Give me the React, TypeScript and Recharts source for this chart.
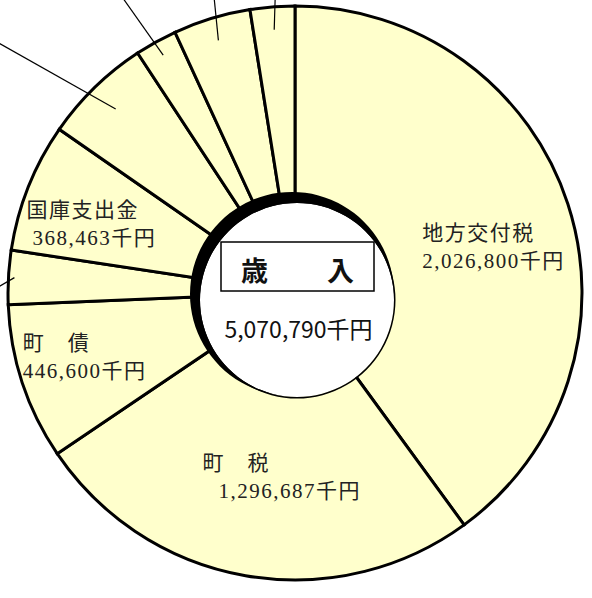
import { PieChart, Pie } from 'recharts';

// 歳入 内訳 (千円)
const categories = ['地方交付税', '町税', '町債', '県支出金', '国庫支出金', '繰入金', '地方譲与税', '諸収入', 'その他'];
const labelNames = ['地方交付税', '町　税', '町　債', '', '国庫支出金', '', '', '', ''];
const values = [2026800, 1296687, 446600, 154300, 368463, 309400, 120500, 220800, 127240];
const centerTitle = ['歳', '入'];
const total = 5070790;

const data = categories.map((name, i) => ({ name, value: values[i] }));

const RAD = Math.PI / 180;
const polar = (cx: number, cy: number, r: number, a: number) => ({
  x: cx + r * Math.cos(-a * RAD),
  y: cy + r * Math.sin(-a * RAD),
});

const fmt = (v: number) => v.toLocaleString('en-US') + '千円';

// start of first label line, measured from slice middle
const labelPlace: Record<number, { r: number; shift: number; indent: number }> = {
  0: { r: 138, shift: 4.6, indent: 0 },
  1: { r: 200, shift: -17.6, indent: 16 },
  2: { r: 278, shift: -6.4, indent: 0 },
  4: { r: 279, shift: 5.9, indent: 6 },
};

// leader lines for labels that sit outside the crop
const leaders: Record<number, { r: number; dx: number; dy: number }> = {
  3: { r: 281, dx: -0.86, dy: 0.5 },
  5: { r: 257, dx: -0.87, dy: -0.49 },
  6: { r: 272, dx: -0.58, dy: -0.82 },
  7: { r: 264, dx: -0.1, dy: -1 },
  8: { r: 264, dx: 0.03, dy: -1 },
};

const labelFont = '"Liberation Serif", "Noto Sans CJK JP", serif';
const sansFont = '"Noto Sans CJK JP", "DejaVu Sans", sans-serif';

const renderLabel = (props: any) => {
  const { cx, cy, midAngle, index } = props;
  const place = labelPlace[index];
  if (place) {
    const p = polar(cx, cy, place.r, midAngle + place.shift);
    return (
      <text fontFamily={labelFont} fontSize={21} fill="#222" letterSpacing={1.5}>
        <tspan x={p.x} y={p.y}>{labelNames[index]}</tspan>
        <tspan x={p.x + place.indent} y={p.y + 28}>{fmt(values[index])}</tspan>
      </text>
    );
  }
  const l = leaders[index];
  if (l) {
    const p = polar(cx, cy, l.r, midAngle);
    return <line x1={p.x} y1={p.y} x2={p.x + l.dx * 200} y2={p.y + l.dy * 200} stroke="#000" strokeWidth={1.2} />;
  }
  return null;
};

const renderCenter = (props: any) => {
  const { cx, cy } = props;
  return (
    <g>
      <rect x={cx - 76} y={cy - 58} width={153} height={49} fill="#fff" stroke="#000" strokeWidth={1.5} />
      <text x={cx - 42.5} y={cy - 19} textAnchor="middle" fontFamily={sansFont} fontSize={27} fontWeight="bold" fill="#111">
        {centerTitle[0]}
      </text>
      <text x={cx + 43.5} y={cy - 19} textAnchor="middle" fontFamily={sansFont} fontSize={27} fontWeight="bold" fill="#111">
        {centerTitle[1]}
      </text>
      <text x={cx + 1.5} y={cy + 38} textAnchor="middle" fontFamily={sansFont} fontSize={23} fill="#111">
        {fmt(total)}
      </text>
    </g>
  );
};

const one = [{ value: 1 }];

export default function App() {
  return (
    <div style={{ position: 'absolute', left: 0, top: 0, background: '#fff' }}>
      <PieChart width={592} height={598} margin={{ top: 0, right: 0, bottom: 0, left: 0 }}>
        <Pie
          data={data}
          dataKey="value"
          nameKey="name"
          cx={295}
          cy={293}
          innerRadius={0}
          outerRadius={287}
          startAngle={90}
          endAngle={-270}
          fill="#FFFFCC"
          stroke="#000"
          strokeWidth={3}
          label={renderLabel}
          labelLine={false}
          isAnimationActive={false}
        />
        <Pie data={one} dataKey="value" cx={292} cy={294} outerRadius={102} fill="#000" stroke="none" isAnimationActive={false} />
        <Pie
          data={one}
          dataKey="value"
          cx={297}
          cy={300}
          outerRadius={97}
          fill="#fff"
          stroke="none"
          label={renderCenter}
          labelLine={false}
          isAnimationActive={false}
        />
        <Pie data={one} dataKey="value" cx={297} cy={300} innerRadius={97} outerRadius={98.5} fill="#000" stroke="none" isAnimationActive={false} />
      </PieChart>
    </div>
  );
}
